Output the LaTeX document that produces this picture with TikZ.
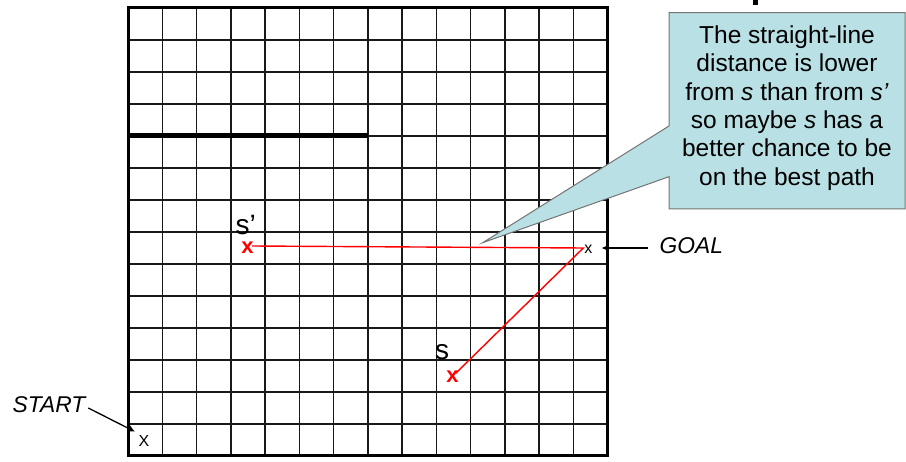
\documentclass[tikz,border=0pt]{standalone}
\usepackage{fontspec}
\setmainfont{Liberation Sans}
\usetikzlibrary{arrows.meta}
\definecolor{calloutfill}{RGB}{185,224,228}
\definecolor{calloutline}{RGB}{115,115,115}
\begin{document}
\begin{tikzpicture}[x=1pt,y=-1pt,
  gridline/.style={line width=1.5pt,draw=black!90},
  border/.style={line width=3pt,draw=black},
  wall/.style={line width=5pt,draw=black},
  callout/.style={fill=calloutfill,draw=calloutline,line width=1pt},
  redpath/.style={draw=red,line width=1.4pt},
  redx/.style={text=red,inner sep=0pt,font=\fontsize{22}{22}\selectfont\bfseries},
  smallx/.style={inner sep=0pt,font=\fontsize{16}{16}\selectfont},
  slabel/.style={inner sep=0pt,anchor=base west,font=\fontsize{28}{28}\selectfont},
  biglabel/.style={inner sep=0pt,anchor=base west,font=\fontsize{22.8}{22.8}\selectfont\itshape},
  pointer/.style={line width=1.3pt,-{Latex[length=7pt,width=7pt]}}
]
\useasboundingbox (0,0) rectangle (906,462);
% title fragment
\fill (752.7,0) rectangle (758,5.5);
% grid
\foreach \i in {1,...,13} {
  \draw[gridline] ({128+\i*34.25},8) -- ({128+\i*34.25},456);
  \draw[gridline] (128,{8+\i*32}) -- (607.5,{8+\i*32});
}
\draw[border] (128,8) rectangle (607.5,456);
\draw[wall] (128,136) -- (367.75,136);
% callout
\draw[callout] (669,12.7) -- (905,12.7) -- (905,209) -- (669,209) -- (669,176.7) -- (482.7,242.7) -- (669,126) -- cycle;
\node[anchor=north,align=center,inner sep=0pt,font=\fontsize{24.5}{28.35}\selectfont] (note) at (787,25.6)
  {The straight-line\\distance is lower\\from \textit{s} than from \textit{s’}\\so maybe \textit{s} has a\\better chance to be\\on the best path};
% states
\node[redx] (sp) at (247.5,247.5) {x};
\node[redx] (s) at (452.5,377) {x};
\node[slabel] (splbl) at (235.5,234.5) {s’};
\node[slabel] (slbl) at (435,359.3) {s};
\node[smallx] (goalx) at (588.3,249) {x};
\node[smallx] (startx) at (144,441) {X};
% red path
\coordinate (spEnd) at (252,246);
\coordinate (g) at (583.3,248);
\coordinate (sEnd) at (455.5,373.5);
\draw[redpath] (spEnd) -- (g) -- (sEnd);
% labels with arrows
\node[biglabel] (goal) at (659.5,253.5) {GOAL};
\node[biglabel] (start) at (12.5,412.3) {START};
\coordinate (goaltail) at (648,248);
\coordinate (goaltip) at (601.5,248);
\coordinate (starttail) at (88.3,408);
\coordinate (starttip) at (135,431.7);
\draw[pointer] (goaltail) -- (goaltip);
\draw[pointer] (starttail) -- (starttip);
\end{tikzpicture}
\end{document}
